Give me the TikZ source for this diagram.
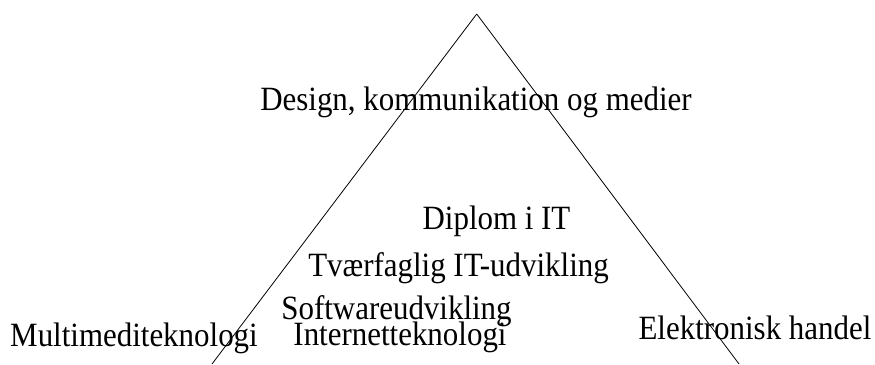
\documentclass[tikz,border=0pt]{standalone}
\usepackage{fontspec}
\setmainfont{Liberation Serif}[FakeStretch=0.91]
\usepackage{tikz}

\begin{document}
\begin{tikzpicture}[x=1pt,y=-1pt,
  fag/.style={anchor=base,inner sep=0pt,font=\fontsize{34}{34}\selectfont}]
\useasboundingbox (0,0) rectangle (875,364);

\coordinate (top) at (476.7,14);
\coordinate (venstre) at (212,364);
\coordinate (hoejre) at (739,364);
\draw [line width=0.8pt](top)--(venstre);
\draw [line width=0.8pt](top)--(hoejre);

\node [fag] (design) at (476,110.7) {Design, kommunikation og medier};
\node [fag] (diplom) at (496.5,229) {Diplom i IT};
\node [fag] (tvaer) at (458.5,276) {Tværfaglig IT-udvikling};
\node [fag] (software) at (396.5,319) {Softwareudvikling};
\node [fag] (internet) at (400,345) {Internetteknologi};
\node [fag] (multimedie) at (134,346) {Multimediteknologi};
\node [fag] (handel) at (755,339) {Elektronisk handel};
\end{tikzpicture}
\end{document}
